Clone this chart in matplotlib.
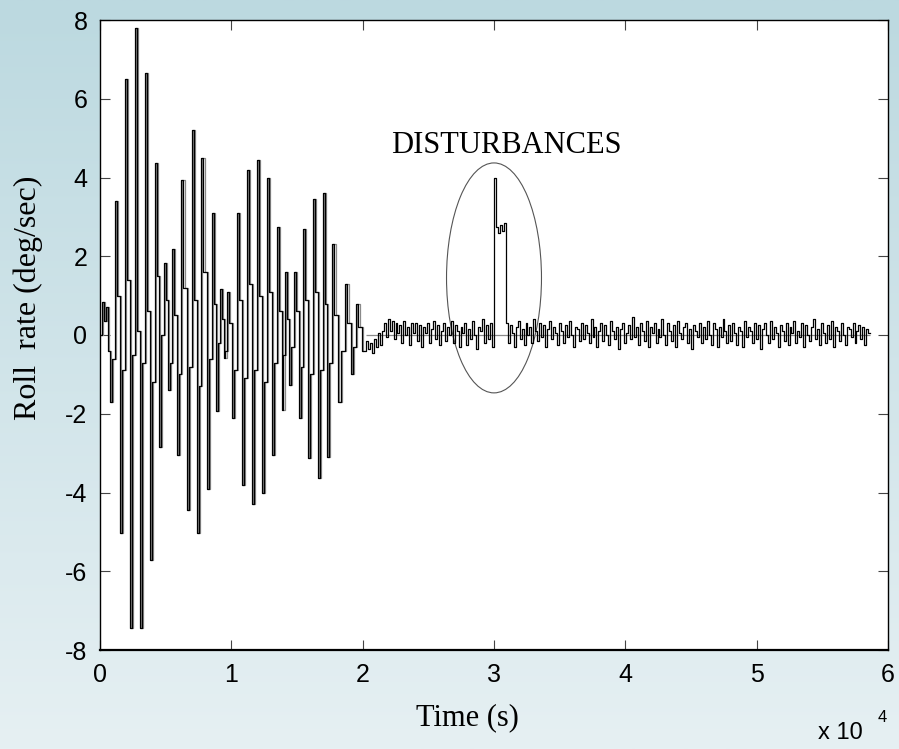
import numpy as np
import matplotlib
matplotlib.use("Agg")
import matplotlib.pyplot as plt
from matplotlib.patches import Ellipse
from matplotlib.colors import LinearSegmentedColormap

plt.rcParams["axes.unicode_minus"] = False

# --- data (time in s, roll rate in deg/sec) ---
start_t = [0, 150, 300, 450, 600]
start_v = [0.0, 0.85, 0.35, 0.7, -0.4]

# extremes of the decaying oscillation
ext_t = [760, 1140, 1520, 1900, 2280, 2670, 3050, 3430, 3810, 4190,
         4490, 4870, 5180, 5480, 5860, 6170, 6620, 7000, 7390, 7690,
         8150, 8530, 8830, 9140, 9440, 9670, 10050, 10430, 10810, 11190,
         11570, 11950, 12330, 12720, 13100, 13480, 13860, 14090, 14390, 14770,
         15150, 15460, 15840, 16220, 16600, 16980, 17280, 17660, 18120, 18650,
         19110, 19490, 19950]
ext_v = [-1.69, 3.4, -5.03, 6.5, -7.44, 7.8, -7.44, 6.65, -5.71, 4.37,
         -2.84, 1.83, -1.4, 2.18, -3.05, 3.93, -4.44, 5.2, -5.02, 4.5,
         -3.9, 3.1, -1.93, 1.17, -0.59, 1.1, -2.1, 3.1, -3.8, 4.2,
         -4.3, 4.45, -4.0, 4.0, -3.05, 2.75, -1.9, 1.6, -1.27, 1.6,
         -2.1, 2.7, -3.13, 3.45, -3.63, 3.6, -3.1, 2.3, -1.7, 1.3,
         -1.0, 0.8, -0.4]
# intermediate hold level between consecutive extremes
mid_v = [-0.6, 1.0, -0.9, 1.4, -0.5, 0.1, -0.7, 0.6, -1.2, 1.5,
         0.0, 0.9, -0.7, 0.5, -1.0, 1.2, -0.8, 0.9, -1.3, 1.6,
         -0.6, 0.8, -0.2, 0.4, -0.4, 0.3, -0.9, 0.9, -1.1, 1.3,
         -0.9, 1.0, -1.2, 1.1, -0.7, 0.6, -0.5, 0.4, -0.3, 0.6,
         -0.8, 0.9, -1.0, 1.1, -0.9, 0.8, -0.7, 0.5, -0.4, 0.3,
         -0.3, 0.2]

noise_t0 = 20250
noise_dt = 150
noise_pre = [-0.15, -0.35, -0.2, -0.45, -0.1, -0.3, 0.05, -0.25, 0.1, 0.3,
             -0.05, 0.4, 0.1, 0.35, -0.1, 0.3, 0.05, 0.25, -0.2, 0.35,
             0.0, 0.2, -0.25, 0.3, 0.05, 0.3, -0.15, 0.25, -0.3, 0.2,
             0.05, 0.3, -0.2, 0.15, 0.35, -0.1, 0.25, -0.25, 0.1, 0.3,
             -0.15, 0.2, 0.0, 0.35, -0.2, 0.25, 0.1, -0.3, 0.2, 0.05,
             0.3, -0.25, 0.15, -0.1, 0.35, 0.0, -0.35, 0.2, 0.1, 0.4,
             -0.2, 0.25, -0.1, 0.3, -0.3]
disturbance = [4.0, 2.75, 2.6, 2.8, 2.65, 2.85]
noise_post = [0.3, -0.2, 0.25, 0.05, -0.3, 0.2, 0.35, -0.1, 0.15, -0.25, 0.3, 0.0, 0.2, -0.2, 0.4, 0.1, -0.15, 0.3, -0.05, 0.25,
              -0.3, 0.15, 0.35, -0.1, 0.2, 0.05, -0.25, 0.3, 0.1, -0.2, 0.25, -0.05, 0.35, 0.0, -0.3, 0.2, 0.15, -0.15, 0.3, -0.1,
              0.25, 0.05, -0.2, 0.4, -0.05, 0.2, -0.3, 0.1, 0.3, -0.15, 0.25, 0.0, -0.25, 0.35, 0.1, -0.1, 0.2, -0.35, 0.15, 0.3,
              -0.2, 0.05, 0.25, -0.1, 0.45, -0.05, 0.2, -0.25, 0.3, 0.1, -0.15, 0.35, -0.3, 0.2, 0.05, 0.3, -0.2, 0.15, -0.05, 0.4,
              0.0, -0.25, 0.3, 0.1, -0.15, 0.25, -0.3, 0.35, 0.05, -0.1, 0.2, 0.3, -0.2, 0.15, -0.35, 0.25, 0.1, -0.05, 0.3, -0.2,
              0.2, -0.1, 0.35, 0.0, -0.25, 0.3, 0.15, -0.3, 0.2, -0.05, 0.4, 0.1, -0.2, 0.25, -0.15, 0.3, 0.05, -0.25, 0.2, 0.1,
              -0.3, 0.35, -0.05, 0.2, 0.1, -0.2, 0.3, -0.1, 0.25, -0.35, 0.15, 0.3, 0.0, -0.2, 0.35, -0.1, 0.2, 0.05, -0.3, 0.25,
              0.1, -0.15, 0.3, -0.25, 0.2, 0.05, 0.35, -0.2, 0.1, -0.05, 0.3, -0.3, 0.25, 0.0, -0.15, 0.2, 0.4, -0.1, 0.15, -0.25,
              0.3, 0.05, -0.2, 0.25, -0.1, 0.35, -0.3, 0.2, 0.1, -0.15, 0.3, 0.0, -0.25, 0.2, 0.15, -0.05, 0.3, -0.2, 0.1, 0.25,
              -0.1, 0.2, -0.25, 0.15, 0.05]

# --- assemble the held signal ---
hold = 0.4
osc_t = list(start_t)
osc_v = list(start_v)
for i in range(len(ext_t)):
    osc_t.append(ext_t[i])
    osc_v.append(ext_v[i])
    if i < len(mid_v):
        osc_t.append(ext_t[i] + hold * (ext_t[i + 1] - ext_t[i]))
        osc_v.append(mid_v[i])

tail_v = noise_pre + disturbance + noise_post
tail_t = noise_t0 + noise_dt * np.arange(len(tail_v) + 1)
tail_v = tail_v + [tail_v[-1]]

t = np.concatenate([osc_t, tail_t])
v = np.concatenate([osc_v, tail_v])

# --- figure ---
W, H = 899, 749
fig = plt.figure(figsize=(W / 100, H / 100), dpi=100)

bg = fig.add_axes([0, 0, 1, 1], zorder=-5)
grad = np.linspace(0, 1, 256).reshape(-1, 1)
cmap = LinearSegmentedColormap.from_list("bg", ["#bcd9e0", "#e6f0f3"])
bg.imshow(grad, aspect="auto", cmap=cmap, extent=[0, 1, 0, 1])
bg.axis("off")

ax = fig.add_axes([100 / W, 99 / H, 788 / W, 630 / H])
ax.set_facecolor("white")

lag = 100
ax.step(np.array(osc_t) + lag, osc_v, where="post", color="#8a8a8a", lw=0.9)
ax.hlines(0, tail_t[0], tail_t[-1], color="#8a8a8a", lw=0.9)
ax.step(t, v, where="post", color="black", lw=0.9)

ax.add_patch(Ellipse((30000, 1.45), 7230, 5.84, fill=False,
                     edgecolor="#555555", lw=0.8))
ax.text(30950, 4.82, "DISTURBANCES", family="Liberation Serif",
        fontsize=22, ha="center", va="center")

ax.set_xlim(0, 60000)
ax.set_ylim(-8, 8)
ax.set_xticks(np.arange(0, 60001, 10000))
ax.set_xticklabels([str(k) for k in range(7)])
ax.set_yticks(np.arange(-8, 9, 2))
ax.tick_params(direction="in", length=7, width=0.8, top=True, right=True,
               labelsize=18, color="#444444")
ax.tick_params(axis="x", pad=9)
ax.tick_params(axis="y", pad=9)
for lab in ax.get_xticklabels() + ax.get_yticklabels():
    lab.set_family("Liberation Sans")
for s in ax.spines.values():
    s.set_linewidth(1.0)
ax.spines["bottom"].set_linewidth(1.6)

fig.text(467 / W, 1 - 718 / H, "Time (s)", family="Liberation Serif",
         fontsize=22, ha="center", va="center")
fig.text(28 / W, 1 - 298 / H, "Roll  rate (deg/sec)", family="Liberation Serif",
         fontsize=23, ha="center", va="center", rotation=90)
fig.text(840 / W, 1 - 733 / H, "x 10", family="Liberation Sans",
         fontsize=17, ha="center", va="center")
fig.text(882 / W, 1 - 717 / H, "4", family="Liberation Sans",
         fontsize=12, ha="center", va="center")

fig.savefig("out.png", dpi=100)
